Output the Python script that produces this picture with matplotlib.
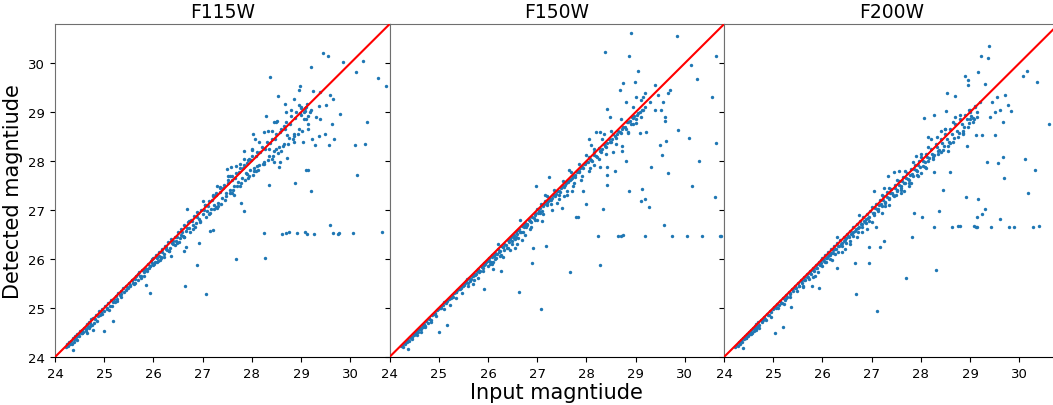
import matplotlib
matplotlib.use("Agg")
import matplotlib.pyplot as plt

# ---------------- data ----------------
filters = ["F115W", "F150W", "F200W"]
ticks = [24, 25, 26, 27, 28, 29, 30]

# dense band along the 1:1 line (shared input grid per magnitude range)
grid_a = [24.22, 24.25, 24.27, 24.29, 24.31, 24.33, 24.34, 24.36, 24.38, 24.39,
          24.41, 24.42, 24.44, 24.45, 24.47, 24.49, 24.50, 24.52, 24.54, 24.56,
          24.58, 24.60, 24.62, 24.64, 24.66, 24.68, 24.70, 24.72, 24.74, 24.76,
          24.78, 24.81, 24.84, 24.87, 24.90, 24.93, 24.96, 24.99]
grid_a2 = [24.23, 24.26, 24.28, 24.30, 24.32, 24.34, 24.36, 24.38, 24.40, 24.42,
           24.44, 24.46, 24.48, 24.50, 24.52, 24.54, 24.56, 24.58, 24.60, 24.62,
           24.64, 24.66, 24.68, 24.70, 24.72, 24.75, 24.78, 24.81, 24.84, 24.87,
           24.90, 24.93, 24.96, 24.99]
grid_b = [25.02, 25.05, 25.08, 25.11, 25.14, 25.17, 25.20, 25.23, 25.26, 25.29,
          25.32, 25.35, 25.38, 25.41, 25.44, 25.47, 25.50, 25.53, 25.56, 25.59,
          25.62, 25.65, 25.68, 25.71, 25.74, 25.77, 25.80, 25.83, 25.86, 25.89,
          25.92, 25.95, 25.98]
grid_c = [26.00, 26.03, 26.06, 26.09, 26.12, 26.15, 26.18, 26.21, 26.24, 26.27,
          26.30, 26.33, 26.36, 26.40, 26.43, 26.46, 26.50, 26.53, 26.56, 26.60,
          26.63, 26.66, 26.70, 26.73, 26.76, 26.80, 26.83, 26.86, 26.90, 26.93,
          26.96]
grid_d = [27.00, 27.04, 27.08, 27.12, 27.16, 27.20, 27.24, 27.28, 27.32, 27.36,
          27.40, 27.44, 27.48, 27.52, 27.56, 27.60, 27.64, 27.68, 27.72, 27.76,
          27.80, 27.84, 27.88, 27.92, 27.96]
grid_e = [28.00, 28.05, 28.10, 28.15, 28.20, 28.25, 28.30, 28.35, 28.40, 28.45,
          28.50, 28.55, 28.60, 28.65, 28.70, 28.75, 28.80, 28.85, 28.90, 28.95,
          29.00, 29.05, 29.10, 29.15, 29.20]
grid_extra = [25.52, 25.57, 25.63, 25.69, 25.75, 25.81, 25.87, 25.93, 25.97, 26.02,
              26.05, 26.08, 26.11, 26.14, 26.17, 26.22, 26.26, 26.31, 26.38, 26.44,
              26.48, 26.52, 26.58, 26.62, 26.68, 26.74, 26.78, 26.84, 26.88, 26.95,
              27.02, 27.06, 27.10, 27.14, 27.19, 27.23, 27.27, 27.31, 27.35, 27.38,
              27.42, 27.47, 27.51, 27.55, 27.59, 27.62, 27.66, 27.70, 27.73, 27.77,
              27.82, 27.86, 27.90, 27.94, 27.98, 28.04, 28.08, 28.12, 28.16, 28.22,
              28.27, 28.32, 28.37, 28.42, 28.47, 28.53, 28.58, 28.63, 28.68, 28.73,
              28.78, 28.83, 28.88, 28.93, 28.97, 29.02, 29.08, 29.13, 24.55, 24.62,
              24.70, 24.80, 24.92, 25.05, 25.15, 25.25, 25.35, 25.45]
grid_wide = [24.45, 24.55, 24.65, 24.72, 24.85, 24.95, 25.10, 25.22, 25.35, 25.48,
             25.60, 25.72, 25.80, 25.90, 26.00, 26.08, 26.15, 26.25, 26.32, 26.40,
             26.48, 26.55, 26.62, 26.72, 26.80, 26.88, 26.95, 27.05, 27.12, 27.20,
             27.28, 27.35, 27.45, 27.52, 27.60, 27.68, 27.75, 27.85, 27.92, 28.00,
             28.08, 28.15, 28.25, 28.32, 28.40, 28.50, 28.60, 28.70, 28.85, 29.00]

f115w_input_dense = grid_a + grid_b + grid_c + grid_d + grid_e + grid_extra + grid_wide
f115w_detected_dense = [
    24.20, 24.26, 24.23, 24.31, 24.26, 24.33, 24.26, 24.39, 24.36, 24.30,
    24.42, 24.37, 24.46, 24.42, 24.47, 24.43, 24.53, 24.50, 24.55, 24.52,
    24.60, 24.59, 24.57, 24.67, 24.66, 24.61, 24.72, 24.69, 24.78, 24.66,
    24.79, 24.77, 24.86, 24.84, 24.93, 24.91, 24.97, 24.94,
    25.04, 25.01, 25.10, 25.04, 25.16, 25.12, 25.18, 25.25, 25.19, 25.31,
    25.27, 25.34, 25.40, 25.33, 25.45, 25.42, 25.51, 25.47, 25.58, 25.52,
    25.60, 25.66, 25.58, 25.73, 25.66, 25.78, 25.74, 25.81, 25.76, 25.90,
    25.86, 25.97, 25.91,
    26.02, 25.93, 26.08, 25.96, 26.14, 26.05, 26.20, 26.10, 26.26, 26.18,
    26.34, 26.22, 26.40, 26.30, 26.46, 26.36, 26.55, 26.42, 26.62, 26.48,
    26.70, 26.58, 26.75, 26.64, 26.80, 26.70, 26.88, 26.74, 26.95, 26.82,
    27.00,
    26.92, 27.10, 26.98, 27.18, 27.02, 27.28, 27.10, 27.35, 27.15, 27.45,
    27.25, 27.52, 27.35, 27.62, 27.42, 27.70, 27.50, 27.76, 27.58, 27.85,
    27.65, 27.92, 27.75, 28.02, 27.82,
    28.10, 27.80, 28.18, 27.92, 28.28, 27.98, 28.40, 28.10, 28.45, 28.20,
    28.55, 28.28, 28.66, 28.35, 28.80, 28.48, 28.92, 28.55, 29.00, 28.65,
    29.08, 28.85, 29.10, 28.92, 29.05,
    25.44, 25.58, 25.52, 25.70, 25.62, 25.77, 25.80, 25.86, 26.01, 25.90,
    26.04, 25.94, 26.06, 25.98, 26.14, 26.05, 26.24, 26.16, 26.32, 26.28,
    26.46, 26.34, 26.56, 26.45, 26.64, 26.55, 26.78, 26.66, 26.86, 26.75,
    27.00, 26.85, 27.08, 26.95, 27.20, 27.02, 27.30, 27.08, 27.36, 27.12,
    27.46, 27.28, 27.55, 27.35, 27.62, 27.42, 27.66, 27.50, 27.78, 27.55,
    27.85, 27.62, 27.96, 27.70, 28.02, 27.85, 28.10, 27.82, 28.18, 27.95,
    28.25, 28.02, 28.38, 28.10, 28.46, 28.16, 28.60, 28.30, 28.66, 28.35,
    28.75, 28.45, 28.88, 28.55, 28.98, 28.62, 29.02, 28.75, 24.48, 24.54,
    24.60, 24.70, 24.86, 24.98, 25.05, 25.15, 25.28, 25.36,
    24.35, 24.48, 24.50, 24.64, 24.74, 24.88, 24.96, 25.12, 25.22, 25.40,
    25.50, 25.66, 25.66, 25.82, 25.88, 26.02, 26.02, 26.20, 26.16, 26.36,
    26.32, 26.50, 26.46, 26.78, 26.62, 26.96, 26.78, 27.10, 26.92, 27.30,
    27.06, 27.48, 27.20, 27.70, 27.35, 27.90, 27.50, 28.05, 27.65, 28.25,
    27.80, 28.40, 27.95, 28.62, 28.05, 28.80, 28.20, 29.00, 28.40, 29.10]

f150w_input_dense = grid_a2 + grid_b + grid_c + grid_d + grid_e + grid_extra + grid_wide
f150w_detected_dense = [
    24.22, 24.24, 24.20, 24.29, 24.27, 24.30, 24.31, 24.35, 24.33, 24.40,
    24.38, 24.41, 24.46, 24.44, 24.50, 24.48, 24.55, 24.51, 24.58, 24.60,
    24.57, 24.66, 24.62, 24.68, 24.64, 24.74, 24.70, 24.80, 24.76, 24.86,
    24.88, 24.90, 24.95, 24.98,
    25.01, 25.05, 25.06, 25.12, 25.10, 25.15, 25.18, 25.20, 25.26, 25.22,
    25.30, 25.33, 25.36, 25.39, 25.38, 25.46, 25.44, 25.51, 25.55, 25.52,
    25.62, 25.60, 25.66, 25.70, 25.68, 25.75, 25.79, 25.76, 25.85, 25.82,
    25.92, 25.90, 25.97,
    25.98, 26.02, 25.95, 26.08, 26.06, 26.12, 26.10, 26.20, 26.16, 26.26,
    26.24, 26.30, 26.28, 26.38, 26.34, 26.45, 26.48, 26.44, 26.55, 26.52,
    26.62, 26.56, 26.68, 26.66, 26.74, 26.72, 26.80, 26.78, 26.86, 26.84,
    26.94,
    27.02, 26.98, 27.12, 27.08, 27.18, 27.14, 27.25, 27.20, 27.30, 27.28,
    27.38, 27.40, 27.45, 27.50, 27.52, 27.58, 27.62, 27.64, 27.70, 27.72,
    27.78, 27.80, 27.86, 27.88, 27.94,
    27.98, 28.08, 28.02, 28.18, 28.10, 28.26, 28.18, 28.35, 28.28, 28.45,
    28.40, 28.55, 28.48, 28.62, 28.58, 28.70, 28.66, 28.80, 28.75, 28.88,
    28.85, 28.98, 28.90, 29.05, 29.10,
    25.48, 25.60, 25.55, 25.66, 25.70, 25.74, 25.84, 25.88, 25.94, 25.96,
    25.90, 26.05, 25.95, 26.10, 26.02, 26.15, 26.08, 26.25, 26.22, 26.40,
    26.36, 26.50, 26.45, 26.60, 26.55, 26.70, 26.66, 26.82, 26.75, 26.90,
    26.95, 27.04, 26.98, 27.12, 27.10, 27.18, 27.20, 27.24, 27.30, 27.32,
    27.40, 27.36, 27.50, 27.48, 27.55, 27.58, 27.62, 27.66, 27.70, 27.68,
    27.80, 27.78, 27.88, 27.86, 27.95, 27.98, 28.05, 28.00, 28.12, 28.08,
    28.20, 28.25, 28.30, 28.36, 28.40, 28.45, 28.52, 28.55, 28.60, 28.66,
    28.70, 28.80, 28.82, 28.90, 28.92, 28.95, 29.00, 29.05, 24.53, 24.60,
    24.66, 24.78, 24.88, 25.00, 25.12, 25.20, 25.32, 25.40,
    24.36, 24.44, 24.52, 24.62, 24.72, 24.84, 24.98, 25.06, 25.20, 25.30,
    25.45, 25.58, 25.62, 25.76, 25.86, 25.90, 26.00, 26.06, 26.18, 26.22,
    26.30, 26.40, 26.44, 26.55, 26.70, 26.66, 26.80, 26.95, 26.92, 27.28,
    27.12, 27.42, 27.30, 27.60, 27.40, 27.78, 27.55, 27.95, 27.70, 28.12,
    27.85, 28.25, 28.05, 28.45, 28.15, 28.62, 28.35, 28.85, 28.60, 28.78]

f200w_input_dense = grid_a2 + grid_b + grid_c + grid_d + grid_e + grid_extra + grid_wide
f200w_detected_dense = [
    24.20, 24.25, 24.22, 24.31, 24.26, 24.35, 24.30, 24.39, 24.36, 24.43,
    24.38, 24.47, 24.42, 24.51, 24.46, 24.55, 24.50, 24.59, 24.54, 24.63,
    24.58, 24.67, 24.62, 24.71, 24.66, 24.76, 24.72, 24.82, 24.78, 24.88,
    24.85, 24.94, 24.91, 24.99,
    25.03, 25.00, 25.09, 25.06, 25.15, 25.10, 25.21, 25.16, 25.27, 25.22,
    25.33, 25.28, 25.39, 25.34, 25.45, 25.40, 25.51, 25.46, 25.57, 25.52,
    25.63, 25.58, 25.69, 25.64, 25.75, 25.70, 25.81, 25.76, 25.87, 25.82,
    25.93, 25.88, 25.99,
    26.03, 25.96, 26.08, 26.02, 26.14, 26.08, 26.20, 26.12, 26.27, 26.20,
    26.32, 26.26, 26.38, 26.33, 26.45, 26.38, 26.52, 26.45, 26.58, 26.52,
    26.65, 26.58, 26.72, 26.64, 26.78, 26.72, 26.85, 26.76, 26.92, 26.84,
    26.98,
    27.06, 26.95, 27.12, 27.02, 27.20, 27.08, 27.28, 27.15, 27.36, 27.22,
    27.44, 27.30, 27.52, 27.38, 27.60, 27.45, 27.68, 27.55, 27.75, 27.62,
    27.84, 27.70, 27.92, 27.80, 28.00,
    28.08, 27.90, 28.15, 28.00, 28.25, 28.05, 28.35, 28.15, 28.45, 28.22,
    28.55, 28.30, 28.65, 28.40, 28.75, 28.50, 28.85, 28.58, 28.95, 28.70,
    29.05, 28.80, 29.12, 28.90, 29.20,
    25.46, 25.55, 25.58, 25.64, 25.72, 25.78, 25.82, 25.90, 25.92, 26.00,
    25.95, 26.02, 26.06, 26.08, 26.12, 26.18, 26.20, 26.26, 26.30, 26.36,
    26.42, 26.48, 26.52, 26.56, 26.62, 26.66, 26.72, 26.78, 26.82, 26.86,
    26.95, 27.05, 27.02, 27.10, 27.12, 27.20, 27.16, 27.26, 27.25, 27.35,
    27.35, 27.45, 27.42, 27.52, 27.50, 27.60, 27.55, 27.66, 27.64, 27.72,
    27.74, 27.84, 27.82, 27.92, 27.88, 28.00, 27.98, 28.08, 28.06, 28.15,
    28.12, 28.28, 28.22, 28.38, 28.30, 28.46, 28.40, 28.56, 28.48, 28.62,
    28.58, 28.75, 28.70, 28.85, 28.78, 28.92, 28.85, 29.00, 24.50, 24.58,
    24.64, 24.76, 24.86, 25.02, 25.10, 25.20, 25.30, 25.40,
    24.38, 24.46, 24.55, 24.60, 24.75, 24.82, 25.00, 25.08, 25.22, 25.35,
    25.44, 25.60, 25.64, 25.74, 25.85, 25.95, 26.00, 26.10, 26.15, 26.26,
    26.32, 26.36, 26.48, 26.56, 26.65, 26.74, 26.78, 26.90, 26.98, 27.30,
    27.08, 27.45, 27.28, 27.62, 27.42, 27.80, 27.56, 27.98, 27.72, 28.15,
    27.88, 28.28, 28.08, 28.50, 28.18, 28.65, 28.38, 28.90, 28.62, 28.85]

# scattered sources (input, detected)
f115w_scatter = [
    (29.44, 30.21), (29.55, 30.14), (29.20, 29.93), (29.86, 30.03), (30.25, 30.05),
    (30.12, 29.83), (30.56, 29.70), (30.73, 29.53), (28.37, 29.72), (30.34, 28.80),
    (30.09, 28.32), (30.29, 28.34), (30.14, 27.71), (29.10, 27.81), (29.15, 27.82),
    (28.87, 27.56), (29.21, 27.38), (28.34, 27.52), (27.78, 27.15), (27.83, 26.98),
    (27.67, 26.00), (28.27, 26.03), (26.64, 25.46), (27.06, 25.29), (25.92, 25.31),
    (26.89, 25.87), (25.00, 24.54), (25.17, 24.73), (24.37, 24.14), (28.24, 26.53),
    (28.61, 26.52), (28.70, 26.53), (28.75, 26.55), (28.92, 26.53), (29.07, 26.56),
    (29.11, 26.52), (29.26, 26.52), (29.58, 26.70), (29.64, 26.53), (29.75, 26.52),
    (29.78, 26.54), (30.05, 26.54), (30.64, 26.55), (27.15, 26.57), (27.20, 26.60),
    (26.62, 26.16), (26.67, 26.24), (26.92, 26.33), (28.07, 28.46), (28.03, 28.56),
    (28.24, 28.60), (28.29, 28.93), (28.54, 29.33), (28.68, 29.17), (28.85, 29.27),
    (28.95, 29.14), (28.98, 29.54), (29.12, 29.16), (29.25, 29.44), (29.39, 29.41),
    (29.37, 29.12), (29.59, 29.34), (29.64, 29.27), (29.80, 28.97), (29.63, 28.76),
    (29.56, 28.32), (29.66, 28.46), (29.49, 28.56), (29.36, 28.52), (29.29, 28.32),
    (29.04, 28.39), (28.85, 28.52), (28.71, 28.54), (28.72, 28.06), (28.58, 27.98),
    (28.56, 27.88), (28.44, 27.98), (28.34, 28.25), (28.10, 27.91), (28.03, 27.71),
    (27.90, 27.74), (29.15, 28.66), (29.22, 28.46), (29.39, 28.86), (26.68, 27.02),
    (27.00, 27.18), (27.29, 27.50), (27.50, 27.84), (27.57, 27.88), (27.29, 27.04),
    (27.63, 27.30), (25.84, 25.48), (26.35, 26.07), (24.77, 24.56), (28.45, 28.80),
    (28.80, 29.05), (29.05, 29.00), (29.30, 28.90), (29.50, 29.15), (28.95, 29.45),
    (28.40, 28.62), (28.48, 28.25), (28.52, 28.82), (28.65, 28.72), (27.55, 27.70),
    (27.75, 27.95), (27.85, 28.20), (27.95, 28.05), (28.00, 28.22), (29.00, 28.95),
    (29.08, 29.08), (29.18, 29.00), (29.10, 28.85)]

f150w_scatter = [
    (28.90, 30.62), (29.85, 30.55), (28.37, 30.22), (28.87, 30.15), (30.63, 30.15),
    (30.12, 29.97), (30.24, 29.68), (30.56, 29.31), (29.05, 29.85), (28.68, 29.46),
    (30.64, 28.38), (30.09, 28.48), (29.86, 28.64), (30.29, 28.01), (30.14, 27.49),
    (30.61, 27.27), (29.66, 27.76), (29.53, 28.12), (29.49, 28.33), (29.61, 28.42),
    (29.31, 27.88), (29.14, 27.44), (29.20, 27.23), (29.10, 27.19), (29.27, 27.06),
    (28.87, 27.39), (28.33, 27.03), (28.00, 27.13), (27.93, 27.38), (27.78, 26.85),
    (27.83, 26.85), (29.57, 26.70), (28.24, 26.48), (28.65, 26.47), (28.70, 26.48),
    (28.75, 26.50), (29.20, 26.48), (29.73, 26.48), (30.05, 26.48), (30.34, 26.48),
    (30.71, 26.48), (30.73, 26.47), (28.27, 25.87), (27.66, 25.73), (27.17, 26.26),
    (26.92, 26.23), (26.90, 25.92), (26.64, 25.33), (27.07, 24.99), (25.91, 25.39),
    (26.26, 25.75), (25.17, 24.66), (25.00, 24.51), (24.37, 24.16), (26.98, 27.49),
    (27.24, 27.67), (27.51, 27.04), (28.41, 29.07), (28.47, 28.90), (28.81, 28.01),
    (28.72, 28.30), (28.72, 28.20), (28.54, 28.18), (28.42, 27.87), (28.41, 27.71),
    (28.41, 27.52), (28.27, 27.87), (28.58, 27.80), (29.59, 28.81), (29.59, 28.90),
    (29.22, 28.60), (29.08, 28.57), (28.95, 28.75), (28.85, 28.57), (28.05, 28.46),
    (28.20, 28.60), (28.27, 28.60), (28.10, 28.33), (29.00, 29.30), (29.10, 29.25),
    (29.20, 29.40), (29.30, 29.20), (29.40, 29.55), (29.45, 29.35), (29.55, 29.20),
    (29.65, 29.40), (29.70, 29.45), (29.52, 29.05), (29.40, 29.05), (28.95, 29.10),
    (28.80, 29.20), (28.75, 29.60), (28.98, 29.62), (29.15, 29.30), (26.55, 26.22),
    (26.70, 26.38), (27.40, 27.15), (27.60, 27.30), (27.70, 27.38), (26.10, 25.80),
    (26.30, 26.05), (26.45, 26.18), (26.60, 26.30), (26.75, 26.50), (26.85, 26.62),
    (27.00, 26.80), (27.10, 26.78), (27.30, 27.00), (27.45, 27.22), (27.55, 27.28),
    (27.72, 27.50), (27.90, 27.62), (28.05, 27.80), (28.15, 27.92), (26.20, 26.30),
    (26.65, 26.80), (27.15, 27.30), (27.65, 27.82), (28.35, 28.55), (25.70, 25.50)]

f200w_scatter = [
    (29.39, 30.36), (29.22, 30.15), (29.37, 30.10), (29.17, 29.83), (28.90, 29.73),
    (28.95, 29.65), (28.95, 29.56), (29.31, 29.58), (30.15, 29.84), (30.08, 29.74),
    (30.36, 29.61), (30.60, 28.76), (30.12, 28.05), (30.32, 27.81), (30.17, 27.34),
    (29.69, 27.65), (29.66, 28.08), (29.56, 27.97), (29.34, 27.98), (29.51, 28.53),
    (29.66, 28.80), (29.83, 29.03), (29.76, 29.14), (28.92, 27.27), (29.17, 27.23),
    (29.30, 27.03), (29.24, 26.91), (29.15, 26.86), (29.61, 26.81), (28.37, 26.99),
    (28.03, 26.86), (27.86, 26.95), (27.82, 26.46), (28.44, 27.41), (28.27, 27.78),
    (28.60, 27.78), (28.27, 26.66), (28.64, 26.66), (28.76, 26.67), (28.79, 26.68),
    (29.08, 26.67), (29.12, 26.65), (29.15, 26.66), (29.43, 26.66), (29.80, 26.66),
    (29.90, 26.66), (30.27, 26.66), (30.39, 26.67), (28.31, 25.78), (27.70, 25.61),
    (27.08, 26.65), (26.95, 26.24), (27.17, 26.24), (27.25, 26.36), (26.94, 25.92),
    (26.66, 25.92), (26.68, 25.28), (27.10, 24.94), (26.29, 25.81), (25.94, 25.40),
    (25.78, 25.45), (25.19, 24.61), (25.04, 24.48), (25.36, 25.02), (24.39, 24.18),
    (27.46, 27.78), (27.34, 27.69), (27.04, 27.38), (28.07, 28.88), (28.26, 28.95),
    (28.53, 29.39), (28.70, 29.33), (28.51, 29.02), (28.49, 28.66), (28.15, 28.50),
    (28.85, 28.55), (28.93, 28.30), (29.12, 28.53), (29.25, 28.54), (29.45, 29.20),
    (29.55, 29.30), (29.60, 29.05), (29.70, 29.35), (29.50, 29.00), (29.40, 28.90),
    (29.00, 29.00), (29.05, 28.88), (28.98, 29.05), (29.10, 29.10), (28.80, 28.95),
    (28.65, 28.80), (28.40, 28.62), (28.35, 28.20), (28.00, 27.75), (28.55, 28.20),
    (27.65, 27.40), (26.80, 26.55), (26.45, 26.20), (27.80, 27.55), (28.20, 28.45),
    (26.20, 25.98), (26.40, 26.15), (26.55, 26.30), (26.70, 26.45), (26.90, 26.62),
    (27.00, 26.75), (27.20, 26.95), (27.35, 27.10), (27.50, 27.30), (27.60, 27.35),
    (27.75, 27.50), (27.95, 27.70), (28.10, 27.85), (26.30, 26.45), (26.75, 26.90),
    (27.25, 27.45), (27.55, 27.80), (27.90, 28.10), (25.60, 25.42), (25.85, 25.65)]

panels = [
    (f115w_input_dense, f115w_detected_dense, f115w_scatter),
    (f150w_input_dense, f150w_detected_dense, f150w_scatter),
    (f200w_input_dense, f200w_detected_dense, f200w_scatter),
]

# ---------------- figure ----------------
W, H = 1053, 406
fig = plt.figure(figsize=(W / 100, H / 100), dpi=100)
lefts = [55, 389.5, 724]
ax_w, ax_h = 334.7, 333
bottom = 48
lo, hi = 24, 30.8

for i, (name, (xd, yd, sc)) in enumerate(zip(filters, panels)):
    ax = fig.add_axes([lefts[i] / W, bottom / H, ax_w / W, ax_h / H])
    xs = list(xd) + [p[0] for p in sc]
    ys = list(yd) + [p[1] for p in sc]
    ax.scatter(xs, ys, s=6, color="#1f77b4", linewidths=0, zorder=2)
    ax.plot([lo, hi], [lo, hi], color="red", lw=1.5, zorder=3)
    ax.set_xlim(lo, hi)
    ax.set_ylim(lo, hi)
    ax.set_xticks(ticks)
    ax.set_yticks(ticks)
    ax.tick_params(labelsize=9.5, colors="black")
    ax.set_title(name, fontsize=13.5, pad=5)
    for side in ["left", "right", "top"]:
        ax.spines[side].set_color("#6f6f6f")
    ax.spines["bottom"].set_color("black")
    if i == 0:
        ax.set_ylabel("Detected magntiude", fontsize=15)
    else:
        ax.set_yticklabels([])
    if i == 1:
        ax.set_xlabel("Input magntiude", fontsize=15, labelpad=2)

fig.savefig("out.png", dpi=100)
